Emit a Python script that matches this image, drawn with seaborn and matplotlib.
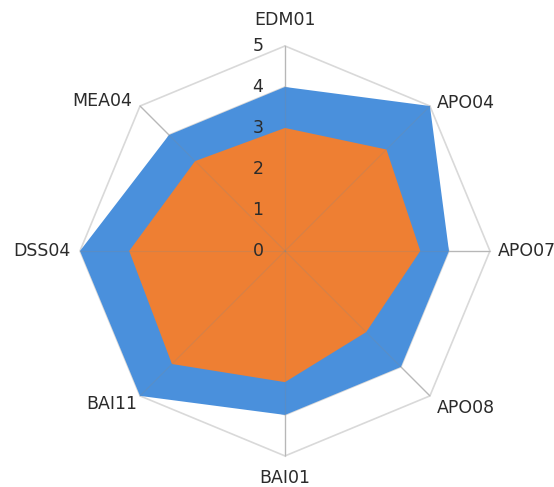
import numpy as np
import matplotlib
matplotlib.use("Agg")
import matplotlib.pyplot as plt
import seaborn as sns

# radar data: maturity levels per process
categories = ["EDM01", "APO04", "APO07", "APO08", "BAI01", "BAI11", "DSS04", "MEA04"]
target_level = [4, 5, 4, 4, 4, 5, 5, 4]
current_level = [3, 3.5, 3.3, 2.8, 3.2, 3.9, 3.8, 3.1]
scale_ticks = [0, 1, 2, 3, 4, 5]

sns.set_theme(style="white")
plt.rcParams['font.family'] = ['DejaVu Sans']

colors = ["#4A90DC", "#EE7F33"]

fig = plt.figure(figsize=(5.54, 4.87), dpi=100)
ax = fig.add_axes([0.1444, 0.0637, 0.740, 0.842], projection='polar')
ax.set_theta_offset(np.pi / 2)
ax.set_theta_direction(-1)

n = len(categories)
angles = np.linspace(0, 2 * np.pi, n, endpoint=False)
closed = np.append(angles, angles[0])

# octagon rings
for t in scale_ticks[1:]:
    ax.plot(closed, [t] * (n + 1), color="#d9d9d9", lw=1.2, zorder=1, clip_on=False)

# spokes behind
for a in angles:
    ax.plot([a, a], [0, scale_ticks[-1]], color="#c8c8c8", lw=1, zorder=1, clip_on=False)

for vals, c in zip([target_level, current_level], colors):
    v = np.append(vals, vals[0])
    ax.fill(closed, v, color=c, lw=0, zorder=2, clip_on=False)

# faint spokes over the fills
for a in angles:
    ax.plot([a, a], [0, scale_ticks[-1]], color="#888888", lw=0.8, alpha=0.25, zorder=3)

ax.set_ylim(0, scale_ticks[-1])
ax.grid(False)
ax.spines['polar'].set_visible(False)
ax.set_xticks([])
ax.set_yticks([])
ax.set_facecolor("none")

# category labels
offsets = [(0, 26, 'center'), (7, 3, 'left'), (8, 0, 'left'), (7, -12, 'left'),
           (0, -22, 'center'), (-3, -8, 'right'), (-9, 0, 'right'), (-8, 5, 'right')]
for cat, a, (dx, dy, ha) in zip(categories, angles, offsets):
    ax.annotate(cat, xy=(a, scale_ticks[-1]), xytext=(dx, dy), textcoords='offset pixels',
                ha=ha, va='center', fontsize=12.5, color="#2b2b2b", annotation_clip=False)

# scale labels
for t in scale_ticks:
    ax.annotate(str(t), xy=(0, t), xytext=(-27, 0), textcoords='offset pixels',
                ha='center', va='center', fontsize=12.5, color="#2b2b2b", zorder=4,
                annotation_clip=False)

fig.savefig("out.png", dpi=100)
